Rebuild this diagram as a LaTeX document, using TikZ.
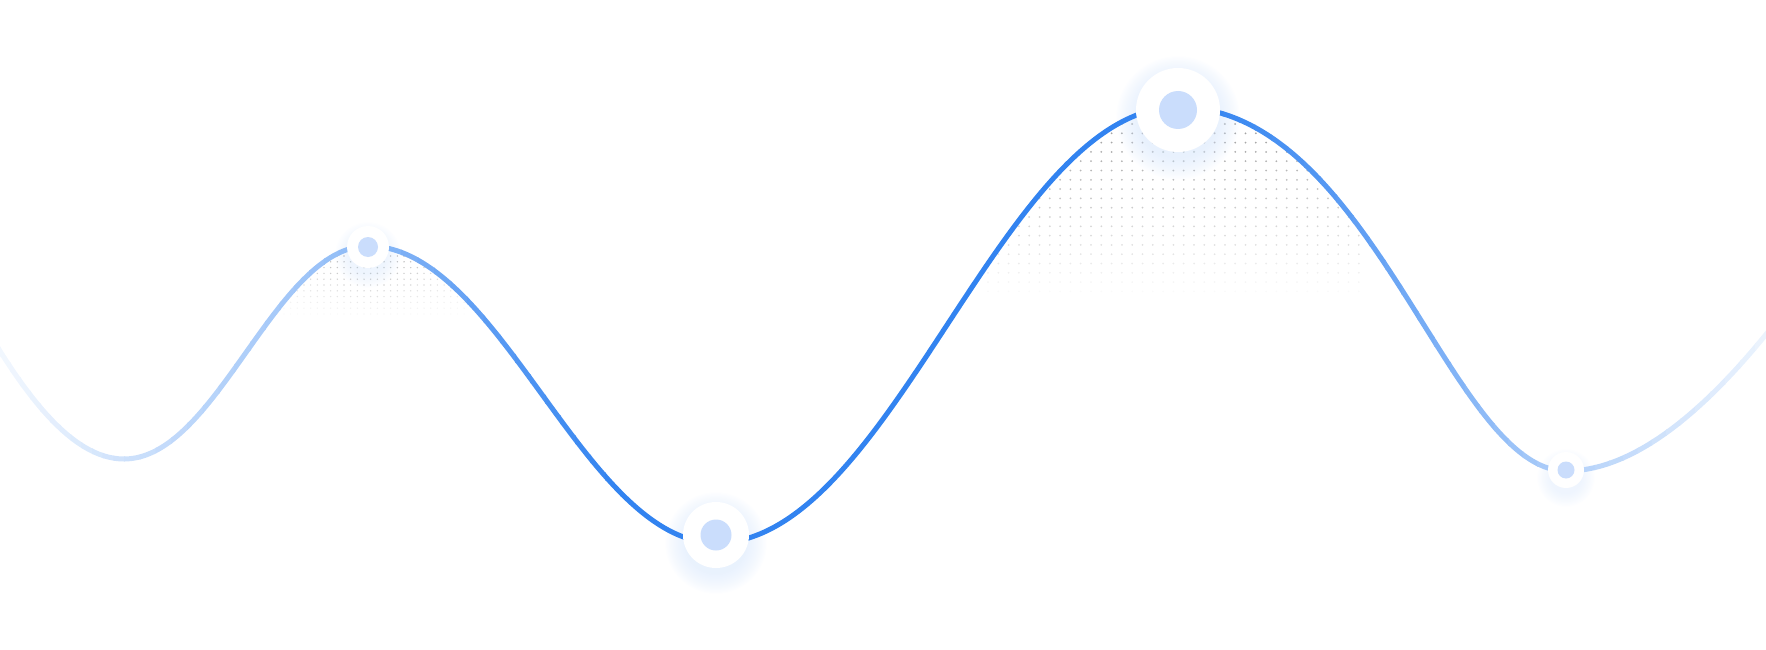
\documentclass[tikz,border=0pt]{standalone}
\definecolor{mainblue}{HTML}{3283F0}
\definecolor{discblue}{HTML}{CADDFC}
\colorlet{glowblue}{mainblue!20!white}
\tikzset{
  markerouter/.style={circle, fill=white, inner sep=0pt},
  markerinner/.style={circle, fill=discblue, inner sep=0pt},
  dotfill/.style={fill=black!#1!white},
}
\newcommand\mkglow[4]{%
  \foreach \k in {0,...,#4}{\fill[glowblue, opacity=0.035] (#1,#2+8) circle ({#3+#4-2-\k});}%
}
\newcommand\mkmarker[5]{%
  \node[markerouter, minimum size={2*#3}] (#5) at (#1,#2) {};
  \node[markerinner, minimum size={2*#4}] (#5in) at (#5) {};
}
\begin{document}
\begin{tikzpicture}[x=1pt,y=-1pt]
\useasboundingbox (0,0) rectangle (1766,650);
\def\curvepath{(-30,300) .. controls (20,390) and (70,459) .. (124,459)
  .. controls (217,459) and (275,246) .. (368,246)
  .. controls (500,246) and (584,543) .. (716,543)
  .. controls (892,543) and (1002,107) .. (1178,107)
  .. controls (1372,107) and (1450,471) .. (1566,471)
  .. controls (1640,471) and (1720,400) .. (1800,290)}
% dotted areas
\begin{scope}
  \clip \curvepath -- (1800,700) -- (-30,700) -- cycle;
  \foreach \r in {0,...,19}{
    \pgfmathsetmacro\yy{114.7+\r*9.3}
    \pgfmathsetmacro\gg{max(0,40*(1-\r/20))}
    \foreach \c in {0,...,36}{
      \fill[dotfill=\gg] (988+\c*10.3,\yy) circle (1);
    }
  }
  \foreach \r in {0,...,10}{
    \pgfmathsetmacro\yy{256+\r*5.8}
    \foreach \c in {0,...,28}{
      \pgfmathsetmacro\xx{277.3+\c*6.67}
      \pgfmathsetmacro\gg{max(0,34*(1-\r/11)*(1-0.55*abs(\xx-372)/100))}
      \fill[dotfill=\gg] (\xx,\yy) circle (0.8);
    }
  }
\end{scope}
% glows
\mkglow{368}{247}{21}{14}
\mkglow{716}{535}{33}{20}
\mkglow{1178}{110}{42}{22}
\mkglow{1566}{470}{18}{13}
% gradient curve
\foreach \xa/\xb/\pa/\pb/\n in {-30/0/4/6/2, 0/60/6/14/6, 60/124/14/24/6, 124/250/24/40/8, 250/368/40/56/8, 368/500/56/82/8, 500/620/82/100/8, 620/1190/100/100/1, 1190/1320/100/84/8, 1320/1450/84/62/8, 1450/1566/62/38/8, 1566/1680/38/20/8, 1680/1800/20/5/8}{
  \foreach \k in {1,...,\n}{
    \pgfmathsetmacro\xl{\xa+(\xb-\xa)*(\k-1)/\n}
    \pgfmathsetmacro\xr{\xa+(\xb-\xa)*\k/\n+1}
    \pgfmathsetmacro\pp{\pa+(\pb-\pa)*(\k-0.5)/\n}
    \begin{scope}
      \clip (\xl,-10) rectangle (\xr,700);
      \draw[mainblue!\pp!white, line width=5] \curvepath;
    \end{scope}
  }
}
% markers
\mkmarker{368}{247}{21}{10}{pa}
\mkmarker{716}{535}{33}{15.5}{pb}
\mkmarker{1178}{110}{42}{19}{pc}
\mkmarker{1566}{470}{18}{8.5}{pd}
\end{tikzpicture}
\end{document}
